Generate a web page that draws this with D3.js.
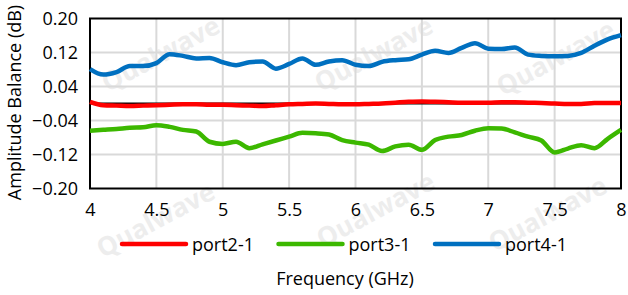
<!DOCTYPE html>
<html>
<head>
<meta charset="utf-8">
<script src="https://cdn.jsdelivr.net/npm/d3@7"></script>
<style>
  body { margin: 0; background: #fff; }
  svg { font-family: "Open Sans", sans-serif; }
</style>
</head>
<body>
<svg id="chart" width="628" height="295"></svg>
<script>
"use strict";
// frequency points (GHz)
var freq = [4.0,4.1,4.2,4.3,4.4,4.5,4.6,4.7,4.8,4.9,5.0,5.1,5.2,5.3,5.4,5.5,5.6,5.7,5.8,5.9,
            6.0,6.1,6.2,6.3,6.4,6.5,6.6,6.7,6.8,6.9,7.0,7.1,7.2,7.3,7.4,7.5,7.6,7.7,7.8,7.9,8.0];
var port21 = [0.004,-0.004,-0.005,-0.006,-0.005,-0.004,-0.003,-0.002,-0.002,-0.003,-0.003,-0.004,-0.005,-0.006,-0.004,-0.002,-0.001,0.000,-0.001,-0.002,
              -0.002,-0.001,0.000,0.002,0.004,0.005,0.004,0.003,0.002,0.002,0.002,0.003,0.003,0.002,0.001,0.000,-0.001,-0.001,0.001,0.001,0.001];
var port31 = [-0.064,-0.062,-0.060,-0.057,-0.056,-0.051,-0.055,-0.062,-0.066,-0.090,-0.095,-0.090,-0.105,-0.096,-0.087,-0.078,-0.069,-0.070,-0.073,-0.086,
              -0.092,-0.097,-0.112,-0.101,-0.097,-0.109,-0.086,-0.078,-0.074,-0.064,-0.058,-0.059,-0.068,-0.078,-0.087,-0.115,-0.106,-0.098,-0.105,-0.083,-0.062];
var port41 = [0.081,0.068,0.074,0.088,0.088,0.095,0.116,0.112,0.106,0.107,0.097,0.090,0.097,0.099,0.082,0.093,0.106,0.091,0.099,0.102,
              0.091,0.088,0.098,0.102,0.104,0.115,0.124,0.119,0.131,0.142,0.129,0.128,0.132,0.115,0.112,0.111,0.112,0.119,0.136,0.151,0.161];
var seriesNames = ["port2-1","port3-1","port4-1"];
var seriesColors = ["#ff0000","#3cb800","#0070c0"];
var xTicks = [4,4.5,5,5.5,6,6.5,7,7.5,8];
var yTicks = [0.20,0.12,0.04,-0.04,-0.12,-0.20];

var svg = d3.select("#chart");
var pLeft = 90, pRight = 621, pTop = 18.5, pBottom = 188.5;
var fontSize = 18;

// watermark
var marks = [[165,62],[378,62],[560,66],[160,228],[380,218],[552,222]];
svg.selectAll("text.wm")
  .data(marks)
  .enter().append("text")
  .attr("class","wm")
  .attr("transform", function(d){ return "translate(" + d[0] + "," + d[1] + ") rotate(-28)"; })
  .attr("text-anchor","middle")
  .attr("font-size", 26)
  .attr("font-weight","bold")
  .attr("fill","#ededed")
  .text("Qualwave");

var x = d3.scaleLinear().domain([4,8]).range([pLeft,pRight]);
var y = d3.scaleLinear().domain([-0.2,0.2]).range([pBottom,pTop]);

// grid
svg.append("g").selectAll("line")
  .data(xTicks.slice(1))
  .enter().append("line")
  .attr("x1", function(d){return x(d);}).attr("x2", function(d){return x(d);})
  .attr("y1", pTop).attr("y2", pBottom)
  .attr("stroke","#d9d9d9").attr("stroke-width",2);
svg.append("g").selectAll("line")
  .data(yTicks.slice(1,5))
  .enter().append("line")
  .attr("x1", pLeft).attr("x2", pRight)
  .attr("y1", function(d){return y(d);}).attr("y2", function(d){return y(d);})
  .attr("stroke","#d9d9d9").attr("stroke-width",2);

// zero line
svg.append("line")
  .attr("x1", pLeft).attr("x2", pRight)
  .attr("y1", y(0)).attr("y2", y(0))
  .attr("stroke","#000").attr("stroke-width",2);

// frame
svg.append("rect")
  .attr("x", pLeft).attr("y", pTop)
  .attr("width", pRight-pLeft).attr("height", pBottom-pTop)
  .attr("fill","none").attr("stroke","#000").attr("stroke-width",2);

// axes labels
var yAxis = d3.axisLeft(y).tickValues(yTicks).tickFormat(d3.format(".2f")).tickSize(0).tickPadding(12);
svg.append("g").attr("transform","translate(" + pLeft + ",0)").call(yAxis)
  .call(function(g){ g.select(".domain").remove(); })
  .selectAll("text").attr("font-size",fontSize).attr("font-family","Open Sans").attr("fill","#000");
var xAxis = d3.axisBottom(x).tickValues(xTicks).tickFormat(d3.format("")).tickSize(0).tickPadding(15);
svg.append("g").attr("transform","translate(0," + pBottom + ")").call(xAxis)
  .call(function(g){ g.select(".domain").remove(); })
  .selectAll("text").attr("font-size",fontSize).attr("font-family","Open Sans").attr("fill","#000");

// series
var series = [port21, port31, port41];
var line = d3.line()
  .x(function(d,i){ return x(freq[i]); })
  .y(function(d){ return y(d); })
  .curve(d3.curveMonotoneX);
svg.append("g").selectAll("path")
  .data(series)
  .enter().append("path")
  .attr("d", line)
  .attr("fill","none")
  .attr("stroke", function(d,i){ return seriesColors[i]; })
  .attr("stroke-width",4.5)
  .attr("stroke-linejoin","round");

// legend
var leg = svg.append("g").selectAll("g")
  .data(seriesNames)
  .enter().append("g")
  .attr("transform", function(d,i){ return "translate(" + (122 + i*156.5) + ",244)"; });
leg.append("line")
  .attr("x1",0).attr("x2",64).attr("y1",0).attr("y2",0)
  .attr("stroke", function(d,i){ return seriesColors[i]; })
  .attr("stroke-width",4.5).attr("stroke-linecap","round");
leg.append("text")
  .attr("x",70).attr("y",6.5)
  .attr("font-size",fontSize).attr("fill","#000")
  .text(function(d){return d;});

// titles
svg.append("text")
  .attr("x", 345).attr("y", 285)
  .attr("text-anchor","middle").attr("font-size",fontSize)
  .text("Frequency (GHz)");
svg.append("text")
  .attr("transform","translate(21," + ((pTop+pBottom)/2 - 1) + ") rotate(-90)")
  .attr("text-anchor","middle").attr("font-size",fontSize)
  .text("Amplitude Balance (dB)");
</script>
</body>
</html>
